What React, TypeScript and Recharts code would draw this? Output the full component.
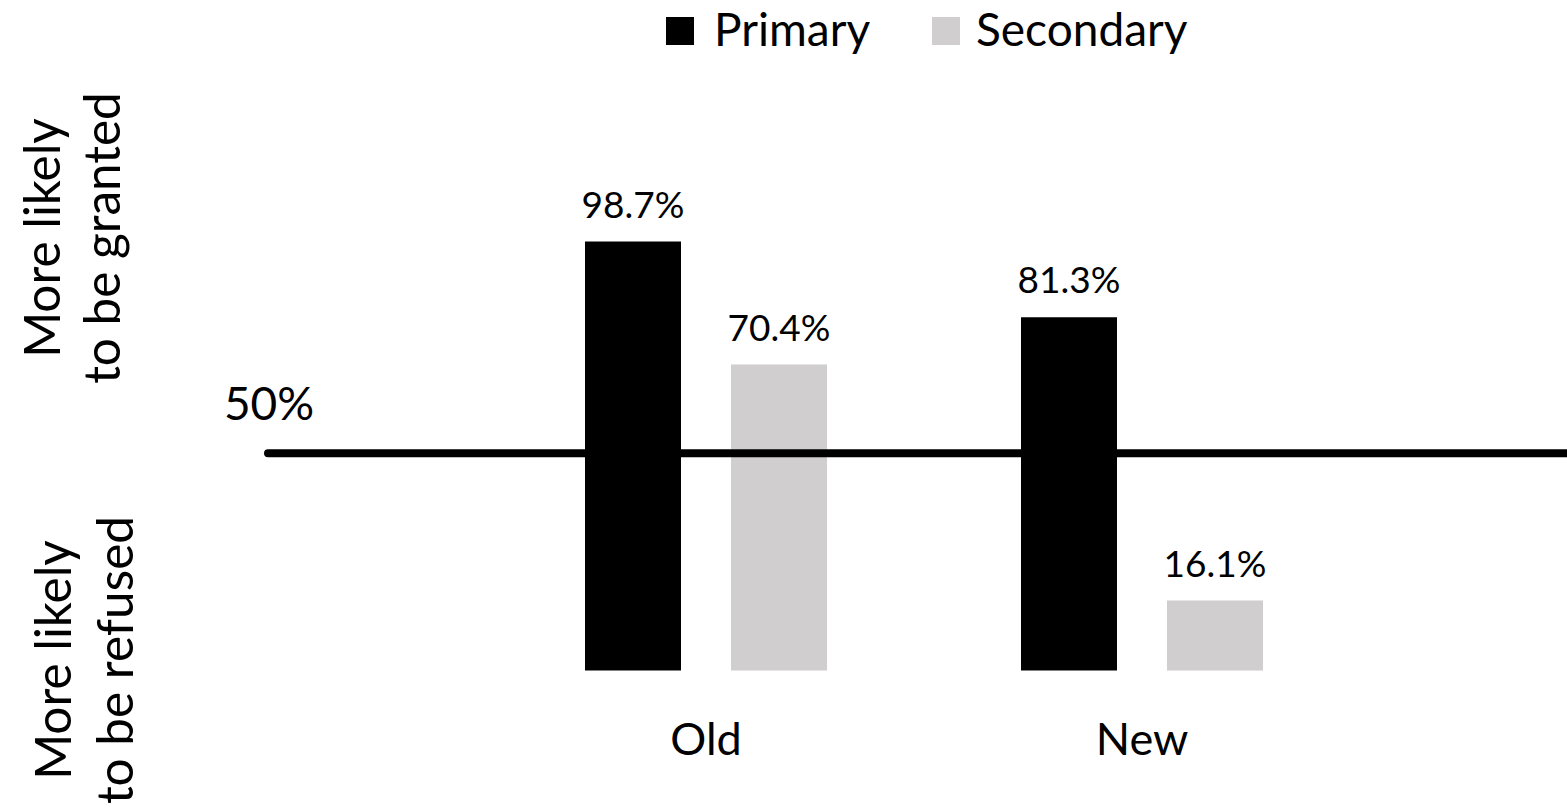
import React from 'react';
import { BarChart, Bar, XAxis, YAxis, ReferenceLine, LabelList } from 'recharts';

const categories = ['Old', 'New'];
const primaryValues = [98.7, 81.3];
const secondaryValues = [70.4, 16.1];
const seriesNames = ['Primary', 'Secondary'];
const thresholdValue = 50;
const thresholdLabel = '50%';
const upperSideLabel = ['More likely', 'to be granted'];
const lowerSideLabel = ['More likely', 'to be refused'];

const data = categories.map((name, i) => ({
  name,
  primary: primaryValues[i],
  secondary: secondaryValues[i]
}));

const FONT = 'Lato, "Open Sans", sans-serif';
const BLACK = '#000000';
const GREY = '#D0CECE';

if (typeof document !== 'undefined') {
  document.body.style.margin = '0';
}

const CategoryTick = ({ x, y, payload }: any) => (
  <text x={x} y={y + 84} textAnchor="middle" fontSize={45} fontFamily={FONT} fill={BLACK}>
    {payload.value}
  </text>
);

const ValueLabel = ({ x, y, width, value }: any) => (
  <text x={x + width / 2} y={y - 24} textAnchor="middle" fontSize={37} fontFamily={FONT} fill={BLACK}>
    {`${value}%`}
  </text>
);

const ThresholdLabel = ({ viewBox }: any) => (
  <text x={viewBox.x + 1} y={viewBox.y - 33} textAnchor="middle" fontSize={46} fontFamily={FONT} fill={BLACK}>
    {thresholdLabel}
  </text>
);

const SideLabel = ({ lines, cy, x1, x2 }: { lines: string[]; cy: number; x1: number; x2: number }) => (
  <g fontSize={49.5} fontFamily={FONT} fill={BLACK}>
    <text x={x1} y={cy} textAnchor="middle" transform={`rotate(-90, ${x1}, ${cy})`}>{lines[0]}</text>
    <text x={x2} y={cy} textAnchor="middle" transform={`rotate(-90, ${x2}, ${cy})`}>{lines[1]}</text>
  </g>
);

export default function App() {
  return (
    <div style={{ position: 'relative', width: 1567, height: 811, background: '#fff', overflow: 'hidden' }}>
      <BarChart
        width={1567}
        height={811}
        data={data}
        margin={{ top: 149, right: 0, left: 268, bottom: 40.5 }}
        barSize={96}
        barGap={50}
      >
        <XAxis
          dataKey="name"
          axisLine={false}
          tickLine={false}
          tickSize={0}
          tickMargin={0}
          height={100}
          padding={{ left: 220, right: 207 }}
          tick={<CategoryTick />}
          interval={0}
        />
        <YAxis hide domain={[0, 120]} width={0} />
        <Bar dataKey="primary" name={seriesNames[0]} fill={BLACK} isAnimationActive={false}>
          <LabelList dataKey="primary" content={<ValueLabel />} />
        </Bar>
        <Bar dataKey="secondary" name={seriesNames[1]} fill={GREY} isAnimationActive={false}>
          <LabelList dataKey="secondary" content={<ValueLabel />} />
        </Bar>
        <ReferenceLine
          y={thresholdValue}
          stroke={BLACK}
          strokeWidth={8}
          strokeLinecap="round"
          label={<ThresholdLabel />}
        />
      </BarChart>
      <svg width={1567} height={811} style={{ position: 'absolute', left: 0, top: 0, pointerEvents: 'none' }}>
        <SideLabel lines={upperSideLabel} cy={238} x1={60} x2={120} />
        <SideLabel lines={lowerSideLabel} cy={660} x1={71} x2={133} />
        <g fontFamily={FONT} fontSize={46} fill={BLACK}>
          <rect x={666} y={17} width={28} height={28} fill={BLACK} />
          <text x={714} y={46}>{seriesNames[0]}</text>
          <rect x={932} y={17} width={28} height={28} fill={GREY} />
          <text x={976} y={46}>{seriesNames[1]}</text>
        </g>
      </svg>
    </div>
  );
}
